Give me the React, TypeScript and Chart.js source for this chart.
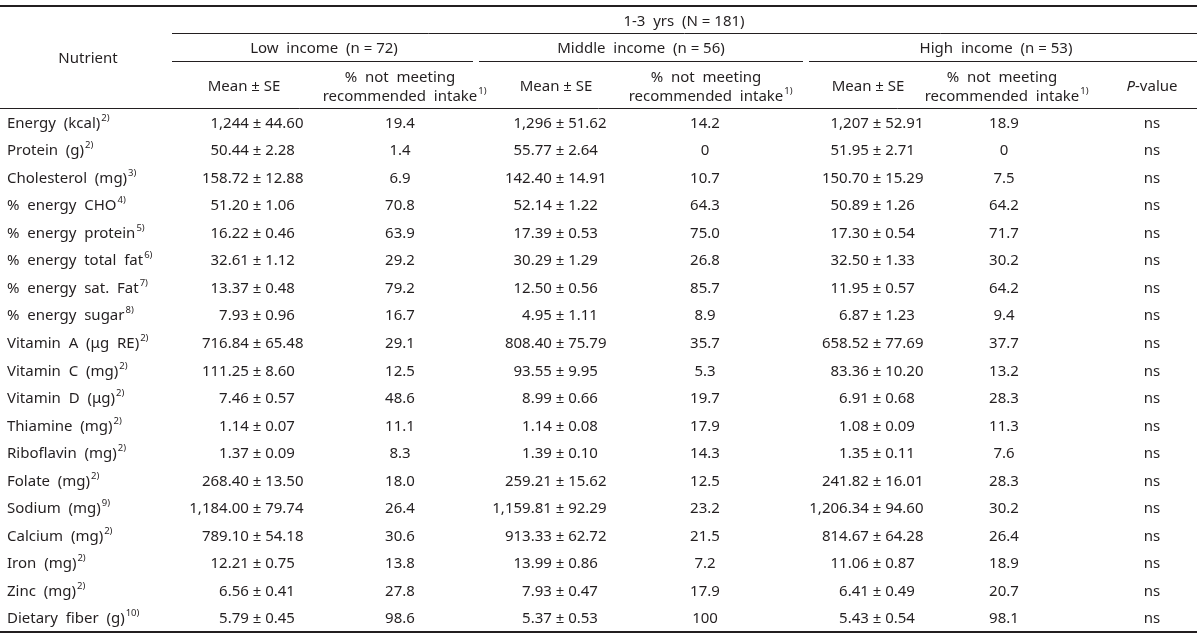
import React, { useEffect, useRef } from "react";
import { Chart, registerables } from "chart.js";

Chart.register(...registerables);

const nutrients = [
  "Energy (kcal)", "Protein (g)", "Cholesterol (mg)", "% energy CHO", "% energy protein",
  "% energy total fat", "% energy sat. Fat", "% energy sugar", "Vitamin A (μg RE)", "Vitamin C (mg)",
  "Vitamin D (μg)", "Thiamine (mg)", "Riboflavin (mg)", "Folate (mg)", "Sodium (mg)",
  "Calcium (mg)", "Iron (mg)", "Zinc (mg)", "Dietary fiber (g)",
];
const nutrientNotes = [
  "2)", "2)", "3)", "4)", "5)", "6)", "7)", "8)", "2)", "2)",
  "2)", "2)", "2)", "2)", "9)", "2)", "2)", "2)", "10)",
];

const lowMean = ["1,244", "50.44", "158.72", "51.20", "16.22", "32.61", "13.37", "7.93", "716.84", "111.25", "7.46", "1.14", "1.37", "268.40", "1,184.00", "789.10", "12.21", "6.56", "5.79"];
const lowSE = ["44.60", "2.28", "12.88", "1.06", "0.46", "1.12", "0.48", "0.96", "65.48", "8.60", "0.57", "0.07", "0.09", "13.50", "79.74", "54.18", "0.75", "0.41", "0.45"];
const lowPct = ["19.4", "1.4", "6.9", "70.8", "63.9", "29.2", "79.2", "16.7", "29.1", "12.5", "48.6", "11.1", "8.3", "18.0", "26.4", "30.6", "13.8", "27.8", "98.6"];

const midMean = ["1,296", "55.77", "142.40", "52.14", "17.39", "30.29", "12.50", "4.95", "808.40", "93.55", "8.99", "1.14", "1.39", "259.21", "1,159.81", "913.33", "13.99", "7.93", "5.37"];
const midSE = ["51.62", "2.64", "14.91", "1.22", "0.53", "1.29", "0.56", "1.11", "75.79", "9.95", "0.66", "0.08", "0.10", "15.62", "92.29", "62.72", "0.86", "0.47", "0.53"];
const midPct = ["14.2", "0", "10.7", "64.3", "75.0", "26.8", "85.7", "8.9", "35.7", "5.3", "19.7", "17.9", "14.3", "12.5", "23.2", "21.5", "7.2", "17.9", "100"];

const highMean = ["1,207", "51.95", "150.70", "50.89", "17.30", "32.50", "11.95", "6.87", "658.52", "83.36", "6.91", "1.08", "1.35", "241.82", "1,206.34", "814.67", "11.06", "6.41", "5.43"];
const highSE = ["52.91", "2.71", "15.29", "1.26", "0.54", "1.33", "0.57", "1.23", "77.69", "10.20", "0.68", "0.09", "0.11", "16.01", "94.60", "64.28", "0.87", "0.49", "0.54"];
const highPct = ["18.9", "0", "7.5", "64.2", "71.7", "30.2", "64.2", "9.4", "37.7", "13.2", "28.3", "11.3", "7.6", "28.3", "30.2", "26.4", "18.9", "20.7", "98.1"];

const pValues = ["ns", "ns", "ns", "ns", "ns", "ns", "ns", "ns", "ns", "ns", "ns", "ns", "ns", "ns", "ns", "ns", "ns", "ns", "ns"];

// header texts
const topHeader = "1-3  yrs  (N = 181)";
const groupHeaders = ["Low  income  (n = 72)", "Middle  income  (n = 56)", "High  income  (n = 53)"];
const meanHeader = "Mean ± SE";
const pctHeader1 = "%  not  meeting";
const pctHeader2 = "recommended  intake";
const pctHeaderNote = "1)";
const nutrientHeader = "Nutrient";

// ---------- layout (pixels) ----------
const W = 1200;
const H = 634;
const INK = "#231f20";
const FONT = '"Noto Sans", "DejaVu Sans", sans-serif';
const COL = {
  name: 7,
  lowPm: 257, lowPct: 400,
  midPm: 560, midPct: 705,
  highPm: 877, highPct: 1004,
  p: 1152,
};
const HDR = {
  nutrient: 88,
  top: 684,
  groups: [324, 641, 996],
  means: [244, 556, 868],
  pcts: [400, 706, 1002],
  p: 1152,
};
const RULE = {
  top: 6, left: 0, right: 1197,
  spanLeft: 172,
  y1: 33.5, y2: 61.5,
  groupSegs: [[172, 473], [479, 803], [809, 1197]],
};
const TEXT_Y = { top: 20, group: 47, nutrient: 57, single: 85, line1: 76, line2: 95 };

function wide(s: string) {
  return s.replace(/ /g, "  ");
}

function setFont(ctx: CanvasRenderingContext2D, size: number, italic = false) {
  ctx.font = `${italic ? "italic " : ""}${size}px ${FONT}`;
}

// draw text whose visual center is y
function drawMain(ctx: CanvasRenderingContext2D, text: string, x: number, y: number) {
  setFont(ctx, 15);
  ctx.textAlign = "left";
  ctx.textBaseline = "alphabetic";
  ctx.fillText(text, x, y + 5.5);
  return ctx.measureText(text).width;
}

function drawSup(ctx: CanvasRenderingContext2D, text: string, x: number, y: number) {
  setFont(ctx, 9.5);
  ctx.textAlign = "left";
  ctx.textBaseline = "alphabetic";
  ctx.fillText(text, x + 1, y - 1.5);
}

function textW(ctx: CanvasRenderingContext2D, text: string, size = 15, italic = false) {
  setFont(ctx, size, italic);
  return ctx.measureText(text).width;
}

function drawCentered(ctx: CanvasRenderingContext2D, text: string, cx: number, y: number, sup?: string) {
  const w = textW(ctx, text);
  const x0 = cx - w / 2;
  drawMain(ctx, text, x0, y);
  if (sup) drawSup(ctx, sup, x0 + w, y);
}

function hLine(ctx: CanvasRenderingContext2D, x0: number, x1: number, y: number, lw: number) {
  ctx.beginPath();
  ctx.lineWidth = lw;
  ctx.moveTo(x0, y);
  ctx.lineTo(x1, y);
  ctx.stroke();
}

const tablePlugin = {
  id: "tableText",
  afterDatasetsDraw(chart: any) {
    const ctx: CanvasRenderingContext2D = chart.ctx;
    const xs = chart.scales.x;
    const area = chart.chartArea;
    const px = (v: number) => xs.getPixelForValue(v);
    ctx.save();
    ctx.fillStyle = INK;
    ctx.strokeStyle = INK;

    // rules
    hLine(ctx, px(RULE.left), px(RULE.right), RULE.top, 2);
    hLine(ctx, px(RULE.spanLeft), px(RULE.right), RULE.y1, 1);
    RULE.groupSegs.forEach(([a, b]) => hLine(ctx, px(a), px(b), RULE.y2, 1));
    hLine(ctx, px(RULE.left), px(RULE.right), Math.round(area.top) - 0.5, 1);
    hLine(ctx, px(RULE.left), px(RULE.right), Math.round(area.bottom), 2);

    // headers
    drawCentered(ctx, nutrientHeader, px(HDR.nutrient), TEXT_Y.nutrient);
    drawCentered(ctx, topHeader, px(HDR.top), TEXT_Y.top);
    groupHeaders.forEach((g, i) => drawCentered(ctx, g, px(HDR.groups[i]), TEXT_Y.group));
    HDR.means.forEach((cx) => drawCentered(ctx, meanHeader, px(cx), TEXT_Y.single));
    HDR.pcts.forEach((cx) => {
      drawCentered(ctx, pctHeader1, px(cx), TEXT_Y.line1);
      drawCentered(ctx, pctHeader2, px(cx), TEXT_Y.line2, pctHeaderNote);
    });
    // P-value (italic P)
    {
      const wP = textW(ctx, "P", 15, true);
      const wV = textW(ctx, "-value", 15);
      const x0 = px(HDR.p) - (wP + wV) / 2;
      setFont(ctx, 15, true);
      ctx.textAlign = "left";
      ctx.textBaseline = "alphabetic";
      ctx.fillText("P", x0, TEXT_Y.single + 5.5);
      drawMain(ctx, "-value", x0 + wP, TEXT_Y.single);
    }

    // cells, placed by the chart's scales
    chart.data.datasets.forEach((ds: any, di: number) => {
      const meta = chart.getDatasetMeta(di);
      meta.data.forEach((el: any, j: number) => {
        const x = el.x;
        const y = el.y;
        if (ds.kind === "name") {
          const w = drawMain(ctx, wide(ds.main[j]), x, y);
          drawSup(ctx, ds.sup[j], x + w, y);
        } else if (ds.kind === "pm") {
          const prefix = ds.mean[j] + " ";
          const wPre = textW(ctx, prefix);
          const wPm = textW(ctx, "±");
          drawMain(ctx, `${ds.mean[j]} ± ${ds.se[j]}`, x - wPre - wPm / 2, y);
        } else {
          drawCentered(ctx, ds.texts[j], x, y);
        }
      });
    });
    ctx.restore();
  },
};

function column(x: number) {
  return nutrients.map((n) => ({ x, y: n }));
}

export default function App() {
  const ref = useRef<HTMLCanvasElement | null>(null);

  useEffect(() => {
    document.body.style.margin = "0";
    document.body.style.background = "#ffffff";
    const canvas = ref.current;
    if (!canvas) return;
    const base = { pointRadius: 0, pointHoverRadius: 0, showLine: false };
    const chart = new Chart(canvas, {
      type: "scatter",
      data: {
        datasets: [
          { ...base, kind: "name", main: nutrients, sup: nutrientNotes, data: column(COL.name) },
          { ...base, kind: "pm", mean: lowMean, se: lowSE, data: column(COL.lowPm) },
          { ...base, kind: "center", texts: lowPct, data: column(COL.lowPct) },
          { ...base, kind: "pm", mean: midMean, se: midSE, data: column(COL.midPm) },
          { ...base, kind: "center", texts: midPct, data: column(COL.midPct) },
          { ...base, kind: "pm", mean: highMean, se: highSE, data: column(COL.highPm) },
          { ...base, kind: "center", texts: highPct, data: column(COL.highPct) },
          { ...base, kind: "center", texts: pValues, data: column(COL.p) },
        ] as any,
      },
      options: {
        responsive: false,
        maintainAspectRatio: false,
        devicePixelRatio: 1,
        animation: false,
        events: [],
        layout: { padding: { top: 108.5, bottom: 2.5, left: 0, right: 0 } },
        plugins: { legend: { display: false }, tooltip: { enabled: false } },
        scales: {
          x: { type: "linear", min: 0, max: W, display: false },
          y: { type: "category", labels: nutrients, offset: true, display: false },
        },
      } as any,
      plugins: [tablePlugin],
    });
    return () => chart.destroy();
  }, []);

  return (
    <div style={{ width: W, height: H, background: "#fff" }}>
      <canvas ref={ref} width={W} height={H} style={{ display: "block", width: W, height: H }} />
    </div>
  );
}
